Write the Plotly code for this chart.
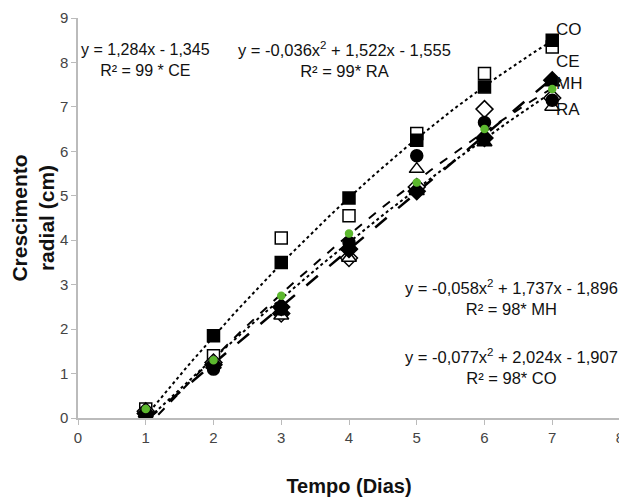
import plotly.graph_objects as go

days = [1, 2, 3, 4, 5, 6, 7]
x_ticks = [0, 1, 2, 3, 4, 5, 6, 7, 8]

# marker series
sq_filled = [0.0, 1.85, 3.5, 4.95, 6.25, 7.45, 8.5]
sq_open = [0.2, 1.4, 4.05, 4.55, 6.4, 7.75, 8.35]
dia_open = [0.15, 1.25, 2.35, 3.6, 5.2, 6.95, 7.2]
dia_filled = [0.1, 1.2, 2.5, 3.8, 5.1, 6.3, 7.6]
tri_filled = [0.05, 1.2, 2.4, 3.85, 5.1, 6.2, 7.55]
tri_open = [0.1, 1.2, 2.3, 3.6, 5.6, 6.35, 7.0]
circ_filled = [0.1, 1.1, 2.45, 3.95, 5.9, 6.65, 7.15]
green = [0.2, 1.3, 2.75, 4.15, 5.3, 6.5, 7.4]

# trendline coefficients shown on the chart (a, b, c for a*x^2 + b*x + c)
coef_CO = [-0.077, 2.024, -1.907]
coef_CE = [0.0, 1.284, -1.345]
coef_MH = [-0.058, 1.737, -1.896]
coef_RA = [-0.036, 1.522, -1.555]

eq_CE = "y = 1,284x - 1,345<br>R² = 99 * CE"
eq_RA = "y = -0,036x<sup>2</sup> + 1,522x - 1,555<br>R² = 99* RA"
eq_MH = "y = -0,058x<sup>2</sup> + 1,737x - 1,896<br>R² = 98* MH"
eq_CO = "y = -0,077x<sup>2</sup> + 2,024x - 1,907<br>R² = 98* CO"

labels = ["CO", "CE", "MH", "RA"]
label_y = [8.74, 8.02, 7.52, 6.94]

FONT = "Liberation Sans, Arial, sans-serif"

fig = go.Figure()

def trend(coef):
    xs = [1 + i * 0.1 for i in range(61)]
    ys = [coef[0] * x * x + coef[1] * x + coef[2] for x in xs]
    return xs, ys

for coef, dash, w in [(coef_CO, "dot", 2), (coef_CE, "longdash", 2.5), (coef_MH, "dash", 2), (coef_RA, "dot", 2)]:
    xs, ys = trend(coef)
    fig.add_trace(go.Scatter(x=xs, y=ys, mode="lines", line=dict(color="black", width=w, dash=dash),
                             hoverinfo="skip"))

def mk(y, symbol, fill, line="black", size=12):
    fig.add_trace(go.Scatter(x=days, y=y, mode="markers",
                             marker=dict(symbol=symbol, size=size, color=fill,
                                         line=dict(color=line, width=1.5))))

mk(sq_open, "square", "white")
mk(sq_filled, "square", "black")
mk(dia_open, "diamond", "white", size=13)
mk(tri_open, "triangle-up", "white", size=13)
mk(dia_filled, "diamond", "black", size=13)
mk(tri_filled, "triangle-up", "black", size=13)
mk(circ_filled, "circle", "black", size=12)
mk(green, "circle", "#5cb82e", line="#5cb82e", size=7)

ann = []
for txt, x, y, s in [(eq_CE, 0.99, 8.06, 16), (eq_RA, 3.93, 8.06, 16.5),
                     (eq_MH, 6.4, 2.72, 16.5), (eq_CO, 6.4, 1.15, 16.5)]:
    ann.append(dict(x=x, y=y, xref="x", yref="y", text=txt, showarrow=False,
                    font=dict(family=FONT, size=s, color="#111"), align="center"))
for lab, ly in zip(labels, label_y):
    ann.append(dict(x=7.03, y=ly, xref="x", yref="y", text=lab, showarrow=False, xanchor="left",
                    font=dict(family=FONT, size=17, color="#111")))

fig.update_layout(
    width=617, height=489, showlegend=False,
    plot_bgcolor="white", paper_bgcolor="white",
    margin=dict(l=70, r=5, t=10, b=79),
    annotations=ann,
    font=dict(family=FONT, size=14, color="#333"),
    xaxis=dict(range=[0, 8.0001], tickmode="array", tickvals=x_ticks, showgrid=False, zeroline=False,
               showline=True, automargin=False,
               linecolor="#bbb", linewidth=1.5, ticks="outside", ticklen=5, tickcolor="#bbb",
               ticklabeloverflow="allow",
               tickfont=dict(family=FONT, size=15, color="#444"),
               title=dict(text="<b>Tempo (Dias)</b>", font=dict(family=FONT, size=20, color="#111"),
                          standoff=38)),
    yaxis=dict(range=[0, 9], dtick=1, showgrid=False, zeroline=False, showline=True, automargin=False,
               linecolor="#bbb", linewidth=1.5, ticks="outside", ticklen=5, tickcolor="#bbb",
               ticklabeloverflow="allow",
               tickfont=dict(family=FONT, size=15, color="#444"),
               title=dict(text="<b>Crescimento<br>radial (cm)</b>",
                          font=dict(family=FONT, size=21, color="#111"),
                          standoff=0)),
)

fig.write_html("out.html")
